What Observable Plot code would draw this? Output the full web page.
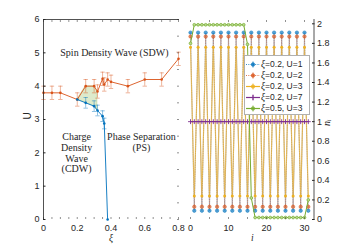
<!DOCTYPE html>
<html><head><meta charset="utf-8">
<script src="https://cdn.jsdelivr.net/npm/d3@7"></script>
<script src="https://cdn.jsdelivr.net/npm/@observablehq/plot@0.6"></script>
<style>
html,body{margin:0;padding:0;background:#fff;}
#wrap{position:relative;width:346px;height:247px;overflow:hidden;font-family:"Liberation Sans",Arial,sans-serif;}
#legend{position:absolute;left:244px;top:55px;width:66px;height:60px;background:#fff;border:0.6px solid #b0b0b0;box-sizing:border-box;font-size:8.5px;color:#262626;}
#legend .row{position:absolute;left:0;height:11px;line-height:11px;white-space:nowrap;}
#legend svg{position:absolute;left:1px;top:0;}
#legend span{position:absolute;left:16px;top:0;}
#legend i{font-family:"Liberation Serif",serif;font-size:9.5px;}
</style></head><body><div id="wrap"><div id="legend"></div></div>
<script>
// ---------- Left panel: phase diagram U vs xi ----------
const xiSDW  = [0, 0.05, 0.1, 0.2, 0.25, 0.3, 0.32, 0.35, 0.36, 0.38, 0.4, 0.5, 0.6, 0.7, 0.8];
const uSDW   = [3.8, 3.8, 3.8, 3.6, 4.0, 4.0, 3.84, 4.22, 4.05, 4.2, 4.13, 4.0, 4.2, 4.2, 4.82];
const errSDW = [0.2, 0.2, 0.2, 0.2, 0.2, 0.2, 0.2, 0.2, 0.2, 0.2, 0.2, 0.2, 0.2, 0.2, 0.2];
const xiCDW  = [0.2, 0.25, 0.3, 0.32, 0.35, 0.36, 0.38];
const uCDW   = [3.6, 3.5, 3.4, 3.27, 3.1, 2.88, 0];
const errCDW = [0, 0.16, 0.16, 0.16, 0.16, 0.16, 0];
const xiBand = [0.2, 0.25, 0.3, 0.32];
const xiTicks = [0, 0.2, 0.4, 0.6, 0.8];
const uTicks = [0, 1, 2, 3, 4, 5, 6];
const phaseLabels = ["Spin Density Wave (SDW)", "Charge\nDensity\nWave\n(CDW)", "Phase Separation\n(PS)"];
const phaseXi = [0.42, 0.196, 0.58];
const phaseU = [5.0, 2.0, 2.33];

// ---------- Right panel: n_i vs i ----------
const sites = [0,1,2,3,4,5,6,7,8,9,10,11,12,13,14,15,16,17,18,19,20,21,22,23,24,25,26,27,28,29,30,31];
const nU1 = [1.91,0.09,1.91,0.09,1.91,0.09,1.91,0.09,1.91,0.09,1.91,0.09,1.91,0.09,1.91,0.09,1.91,0.09,1.91,0.09,1.91,0.09,1.91,0.09,1.91,0.09,1.91,0.09,1.91,0.09,1.91,0.09];
const nU2 = [1.87,0.13,1.87,0.13,1.87,0.13,1.87,0.13,1.87,0.13,1.87,0.13,1.87,0.13,1.87,0.13,1.87,0.13,1.87,0.13,1.87,0.13,1.87,0.13,1.87,0.13,1.87,0.13,1.87,0.13,1.87,0.13];
const nU3 = [1.76,0.24,1.76,0.24,1.76,0.24,1.76,0.24,1.76,0.24,1.76,0.24,1.76,0.24,1.76,0.24,1.76,0.24,1.76,0.24,1.76,0.24,1.76,0.24,1.76,0.24,1.76,0.24,1.76,0.24,1.76,0.24];
const nU7 = [1,1,1,1,1,1,1,1,1,1,1,1,1,1,1,1,1,1,1,1,1,1,1,1,1,1,1,1,1,1,1,1];
const nPS = [1.8,1.99,1.99,1.99,1.99,1.99,1.99,1.99,1.99,1.99,1.99,1.99,1.99,1.99,1.99,1.79,0.22,0.02,0.02,0.02,0.02,0.02,0.02,0.02,0.02,0.02,0.02,0.02,0.02,0.02,0.02,0.2];
const seriesXi = [0.2, 0.2, 0.2, 0.2, 0.5];
const seriesU  = [1, 2, 3, 7, 3];
const iTicks = [0, 10, 20, 30];
const nTicks = [0, 0.2, 0.4, 0.6, 0.8, 1, 1.2, 1.4, 1.6, 1.8, 2];

const ORANGE="#D95319", BLUE="#0072BD", YELLOW="#EDB120", PURPLE="#7E2F8E", GREEN="#77AC30", INK="#262626";
const cap = {draw(ctx){ ctx.moveTo(-2.2,0); ctx.lineTo(2.2,0); }};
const fmt = d3.format("~g");
const svgStyle = {position:"absolute", left:"0px", top:"0px", background:"none", fontFamily:"'Liberation Sans', Arial, sans-serif", fontSize:"9px", color:INK, maxWidth:"none"};

const sdw = xiSDW.map((x,k)=>({xi:x,u:uSDW[k],e:errSDW[k]}));
const cdw = xiCDW.map((x,k)=>({xi:x,u:uCDW[k],e:errCDW[k]}));
const band = xiBand.map(x=>({xi:x, lo:cdw.find(d=>d.xi===x).u, hi:sdw.find(d=>d.xi===x).u}));
const labels = phaseLabels.map((t,k)=>({t, xi:phaseXi[k], u:phaseU[k]}));
const cdwErr = cdw.filter(d=>d.e>0);

function errMarks(data, color, op){
  return [
    Plot.ruleX(data, {x:"xi", y1:d=>d.u-d.e, y2:d=>d.u+d.e, stroke:color, strokeOpacity:op, strokeWidth:0.8}),
    Plot.dot(data, {x:"xi", y:d=>d.u+d.e, symbol:cap, fill:"none", stroke:color, strokeOpacity:op, strokeWidth:0.8}),
    Plot.dot(data, {x:"xi", y:d=>d.u-d.e, symbol:cap, fill:"none", stroke:color, strokeOpacity:op, strokeWidth:0.8})
  ];
}

const left = Plot.plot({
  width:346, height:247,
  marginLeft:43, marginRight:168, marginTop:19, marginBottom:28,
  style: svgStyle,
  x:{domain:[0,0.8]}, y:{domain:[0,6]},
  marks:[
    Plot.areaY(band, {x:"xi", y1:"lo", y2:"hi", fill:GREEN, fillOpacity:0.25, stroke:GREEN, strokeOpacity:0.35, strokeWidth:0.6}),
    ...errMarks(sdw, ORANGE, 0.55),
    Plot.line(sdw, {x:"xi", y:"u", stroke:ORANGE, strokeWidth:0.9}),
    Plot.dot(sdw, {x:"xi", y:"u", r:1.3, fill:ORANGE}),
    ...errMarks(cdwErr, BLUE, 0.55),
    Plot.line(cdw, {x:"xi", y:"u", stroke:BLUE, strokeWidth:0.9}),
    Plot.dot(cdw, {x:"xi", y:"u", r:1.3, fill:BLUE}),
    Plot.text(labels, {x:"xi", y:"u", text:"t", fontFamily:"'Liberation Serif', 'Times New Roman', serif", fontSize:10, lineHeight:1.07, fill:INK}),
    Plot.axisY({anchor:"left", ticks:uTicks, tickFormat:fmt, tickSize:0, tickPadding:4, label:null, fill:INK}),
    Plot.axisY({anchor:"left", ticks:uTicks, tickSize:-2.5, text:null, label:null, stroke:INK}),
    Plot.axisY({anchor:"right", ticks:d3.range(0,6.01,0.5), tickSize:-2, text:null, label:null, stroke:INK, strokeOpacity:0.5}),
    Plot.axisX({anchor:"bottom", ticks:xiTicks, tickFormat:fmt, tickSize:0, tickPadding:5, label:null, fill:INK}),
    Plot.axisX({anchor:"bottom", ticks:d3.range(0,0.801,0.05), tickSize:-2, text:null, label:null, stroke:INK, strokeOpacity:0.5}),
    Plot.axisX({anchor:"top", ticks:d3.range(0,0.801,0.05), tickSize:-2, text:null, label:null, stroke:INK, strokeOpacity:0.5}),
    Plot.frame({anchor:"left", stroke:INK, strokeWidth:0.8}),
    Plot.frame({anchor:"top", stroke:INK, strokeWidth:0.8}),
    Plot.text(["U"], {frameAnchor:"left", dx:-16, rotate:-90, fontSize:10, fill:INK}),
    Plot.text(["ξ"], {frameAnchor:"bottom", dy:21, fontSize:9.5, fontStyle:"italic", fontFamily:"'Liberation Serif', serif", fill:INK})
  ]
});

const seriesN = [nU1, nU2, nU3, nU7, nPS];
const rows = seriesN.map(arr => sites.map((s,k)=>({i:s, n:arr[k]})));

const right = Plot.plot({
  width:346, height:247,
  marginLeft:190, marginRight:32.5, marginTop:19, marginBottom:28,
  style: svgStyle,
  x:{domain:[0,32.5]}, y:{domain:[0,2.044]},
  marks:[
    Plot.line(rows[0], {x:"i", y:"n", stroke:BLUE, strokeWidth:0.7, strokeDasharray:"1,1.3", strokeOpacity:0.5}),
    Plot.dot(rows[0], {x:"i", y:"n", r:1.7, fill:BLUE, fillOpacity:0.65, stroke:BLUE, strokeWidth:0.5}),
    Plot.line(rows[1], {x:"i", y:"n", stroke:ORANGE, strokeWidth:0.7, strokeDasharray:"1,1.3", strokeOpacity:0.5}),
    Plot.dot(rows[1], {x:"i", y:"n", r:1.7, fill:ORANGE, fillOpacity:0.65, stroke:ORANGE, strokeWidth:0.5}),
    Plot.line(rows[2], {x:"i", y:"n", stroke:YELLOW, strokeWidth:1.2, strokeOpacity:0.6}),
    Plot.dot(rows[2], {x:"i", y:"n", r:1.5, fill:YELLOW}),
    Plot.line(rows[3], {x:"i", y:"n", stroke:PURPLE, strokeWidth:1}),
    Plot.dot(rows[3], {x:"i", y:"n", r:1.7, symbol:"plus", stroke:PURPLE, strokeWidth:0.9}),
    Plot.line(rows[4], {x:"i", y:"n", stroke:GREEN, strokeWidth:1}),
    Plot.dot(rows[4], {x:"i", y:"n", r:1.4, fill:"#b9da8f", stroke:GREEN, strokeWidth:0.7}),
    Plot.axisY({anchor:"right", ticks:nTicks, tickFormat:fmt, tickSize:0, tickPadding:3, label:null, fill:INK}),
    Plot.axisY({anchor:"right", ticks:nTicks, tickSize:-2.5, text:null, label:null, stroke:INK}),
    Plot.axisX({anchor:"bottom", ticks:iTicks, tickFormat:fmt, tickSize:0, tickPadding:5, label:null, fill:INK}),
    Plot.axisX({anchor:"bottom", ticks:d3.range(0,32.1,5), tickSize:-2, text:null, label:null, stroke:INK, strokeOpacity:0.5}),
    Plot.axisX({anchor:"top", ticks:d3.range(0,32.1,5), tickSize:-2, text:null, label:null, stroke:INK, strokeOpacity:0.5}),
    Plot.frame({anchor:"right", stroke:INK, strokeWidth:0.8}),
    Plot.text(["i"], {frameAnchor:"bottom", dy:21, fontSize:9.5, fontStyle:"italic", fontFamily:"'Liberation Serif', serif", fill:INK}),
    Plot.text(["nᵢ"], {frameAnchor:"right", dx:13, rotate:-90, fontSize:10, fontStyle:"italic", fontFamily:"'Liberation Serif', serif", fill:INK})
  ]
});

const wrap = document.getElementById("wrap");
const legend = document.getElementById("legend");
wrap.insertBefore(left, legend);
wrap.insertBefore(right, legend);

// legend
const legendStyle = [
  {c:BLUE, dash:"1,1.3", sym:"circle"},
  {c:ORANGE, dash:"1,1.3", sym:"circle"},
  {c:YELLOW, dash:null, sym:"circle"},
  {c:PURPLE, dash:null, sym:"plus"},
  {c:GREEN, dash:null, sym:"circle"}
];
seriesU.forEach((u,k)=>{
  const s = legendStyle[k];
  const row = document.createElement("div");
  row.className = "row";
  row.style.top = (2.5 + k*11) + "px";
  const marker = s.sym === "plus"
    ? `<path d="M4.5,5.5h5M7,3v5" stroke="${s.c}" stroke-width="1"/>`
    : `<circle cx="7" cy="5.5" r="1.8" fill="${s.c}" fill-opacity="0.75" stroke="${s.c}" stroke-width="0.5"/>`;
  row.innerHTML = `<svg width="14" height="11"><line x1="0" x2="14" y1="5.5" y2="5.5" stroke="${s.c}" stroke-width="${s.dash?0.8:1.2}" ${s.dash?`stroke-dasharray="${s.dash}"`:""}/><line x1="7" x2="7" y1="2.5" y2="8.5" stroke="${s.c}" stroke-width="0.8"/>${marker}</svg><span><i>ξ</i>=${seriesXi[k]}, U=${u}</span>`;
  legend.appendChild(row);
});
</script></body></html>
